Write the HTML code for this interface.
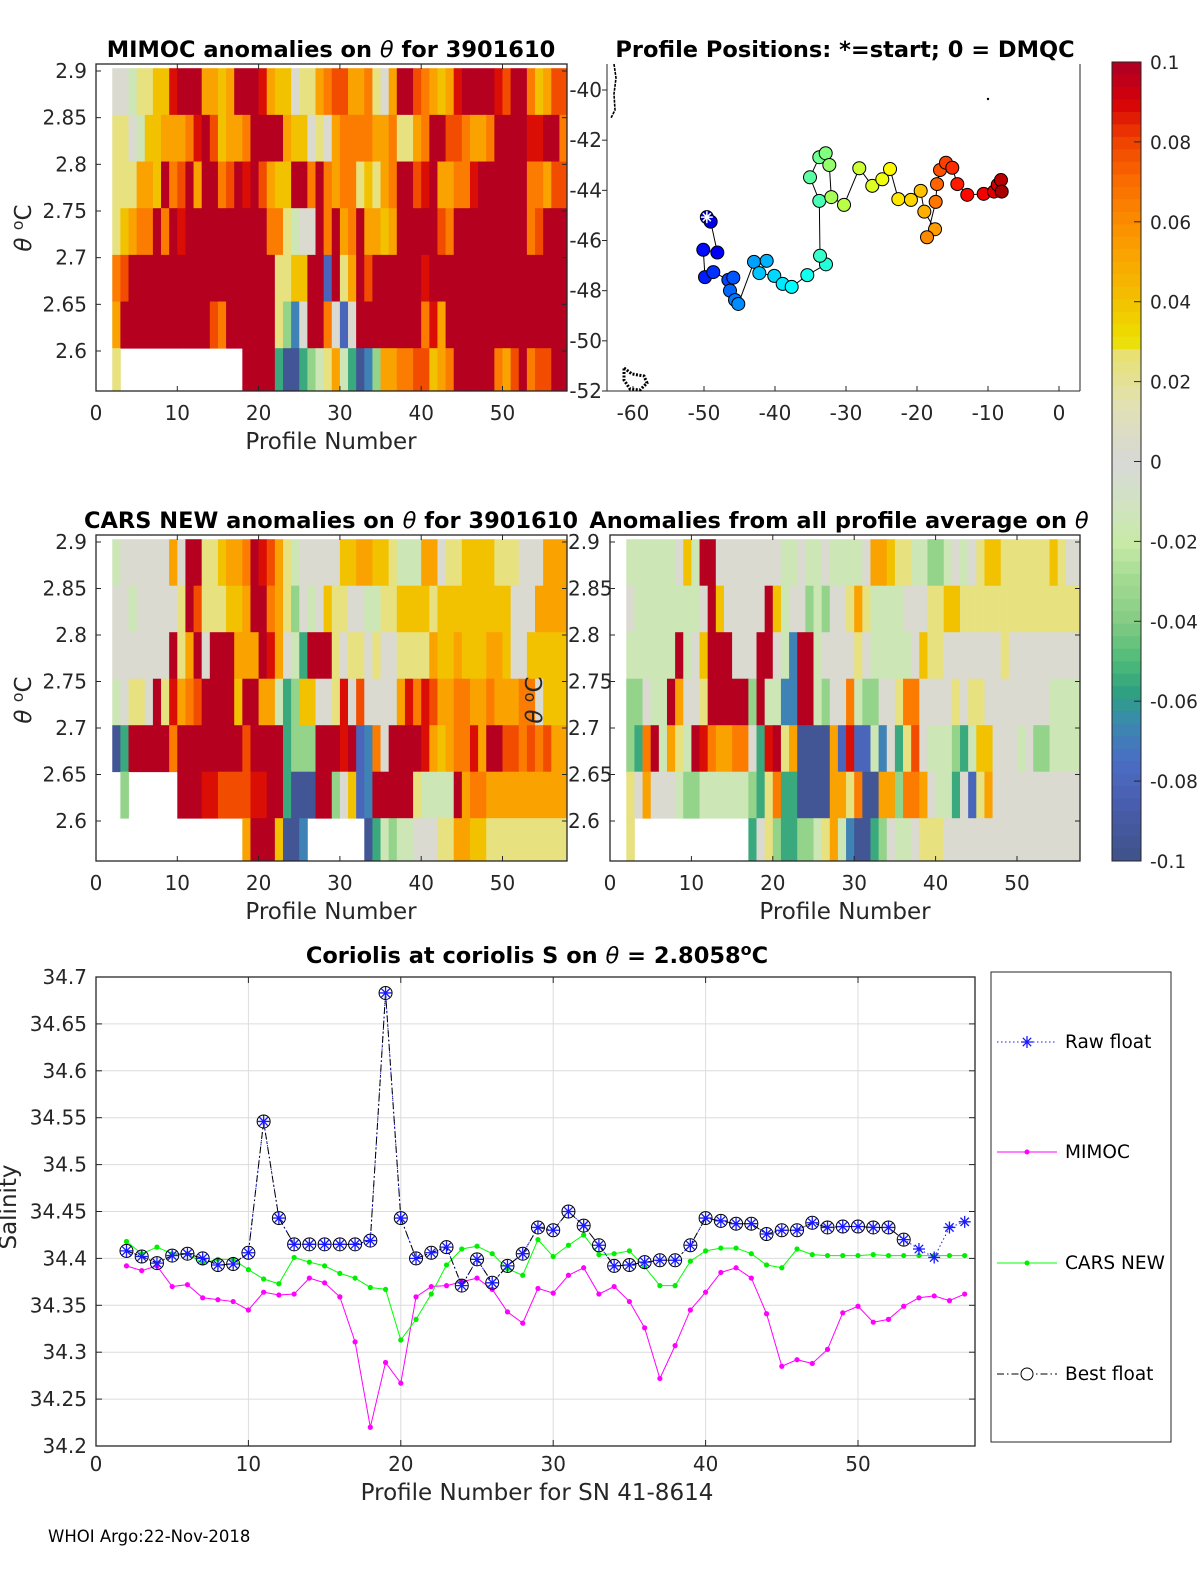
<!DOCTYPE html>
<html><head><meta charset="utf-8"><style>
body{margin:0;background:#fff}
svg{display:block;font-family:"DejaVu Sans","Liberation Sans",sans-serif}
</style></head><body>
<svg id="fig" width="1200" height="1575" viewBox="0 0 1200 1575" xmlns="http://www.w3.org/2000/svg">
<rect width="1200" height="1575" fill="#fff"/>
<g id="g-tl"></g>
<g id="g-map"></g>
<g id="g-ml"></g>
<g id="g-mr"></g>
<g id="g-cb"></g>
<g id="g-line"></g>
<text x="48" y="1542" font-size="16.5" fill="#000">WHOI Argo:22-Nov-2018</text>
</svg>
<script>
// ---------- data ----------
const thetaTicks=[2.9,2.85,2.8,2.75,2.7,2.65,2.6];
const profileTicks=[0,10,20,30,40,50];
const rowCenters=[2.878,2.828,2.778,2.728,2.678,2.628,2.578];
const codeValues={R:0.098,r:0.088,o:0.078,O:0.065,a:0.052,Y:0.04,y:0.024,g:0.003,l:-0.015,m:-0.035,t:-0.055,c:-0.068,b:-0.08,B:-0.095};
const mimocRows=[
"gglyyYYrRRRaaYaRRRraYYgyyaOooaaOygaRRoOaYarRRRRroRROYaoo",
"yyglYYaaaOrRoYaaORRRRaYYgygaOOOOaaOyyaORRooOaaORRRRrrRRO",
"yyyaaYROoRaRROoRrRoaYYRROROaOOyYyaORRorRaaOOrRRRRRROOaoo",
"yYaOORORrRRRRRRRRRROOylggRORaORaaYaRRRRRoORRRRRRRRROoRRR",
"OoRRRRRRRRRRRRRRRRRRyyYYRRbRyaRoRRRRRRrRRRRRRRRRRRRRRRRR",
"aRRRRRRRRRRRoORRRRRRymcgRROgbgRRRRRRRROraRRRRRRRRRRRRRRR",
"y...............RRRRtBBtmlyaltBcmaaOOooYaORRRRROaoROooRR"];
const carsRows=[
"lggggggagRRyyYaaORroaylgggggYYaaYYylllaagyyYYYYyyygggaaa",
"gglgggggyRoyyyYYaRROaymglgYyyggllyyYYYYyYYYYYYYYYgggaaaa",
"gggggggRyaRgRRRaaaRragltRRRygyygyggyyyyaYYaYYYaaYggYYYYY",
"lgyygRyraOoRRRRYRRaaltmYYggyrgoggggarOroaaOOaaOaaaOOgYYY",
"BtRRRRRORRRRRRRRoRRRRtmmmRRRrRbcOgRRRRraYaOOraRRooOoOoaa",
".m......RRRrroooorrRRtBBBRRmgYbcRRRRRyllllRaOOaaaaaaaaaa",
"................aRRRYBBc.......BtlmllgggyyaaYYyyyyyyyyyy"];
const avgRows=[
"llllllgYlRRggggggggllgllgllllgaaYyyllmmlglgyYYyyyyyyYygg",
"gllllllllgRYgggggRYlggmlmggyayllllgggyyYYyyyyyyyyyyyyyyy",
"llllllRlgYRRRgggRRglcRRlggggyglllllgYyygggggggyggggggggg",
"mmgllRaggyRRRRRmRllccRRlmggOlmmggyOOggggygyyggggggggllll",
"mtORlaylRrOaaOOgtrRyaBBBBabrbblcgtyoglllmtlYYggglgmmllll",
"ygaggglmmllllllmtyOttBBBBaayOBBaamOOaglltgbyaggggggggggg",
"y..............tgymttmmlyalcBBtmgllgyyygggggggggggggggggg"];
const mapLon=[-49.6,-49.06,-48.12,-50.1,-49.86,-48.69,-46.57,-45.87,-46.34,-45.63,-45.17,-42.96,-41.17,-42.21,-40.1,-38.92,-37.65,-35.45,-32.82,-33.66,-33.76,-35.07,-33.76,-32.86,-32.35,-32.07,-30.28,-28.13,-26.3,-24.89,-23.8,-22.63,-20.85,-19.48,-18.97,-17.46,-18.59,-17.37,-17.18,-16.76,-15.92,-15.03,-14.32,-12.92,-10.61,-9.15,-8.63,-8.17,-8.07];
const mapLat=[-45.07,-45.25,-46.48,-46.37,-47.46,-47.26,-47.57,-47.48,-48.0,-48.37,-48.53,-46.85,-46.81,-47.3,-47.41,-47.73,-47.85,-47.38,-46.95,-46.61,-44.42,-43.48,-42.68,-42.52,-42.99,-44.27,-44.58,-43.12,-43.82,-43.56,-43.15,-44.35,-44.38,-44.02,-44.85,-45.55,-45.87,-44.46,-43.75,-43.19,-42.9,-43.1,-43.75,-44.18,-44.14,-44.05,-43.78,-43.59,-44.05];
const lonTicks=[-60,-50,-40,-30,-20,-10,0];
const latTicks=[-40,-42,-44,-46,-48,-50,-52];
const cbTicks=[0.1,0.08,0.06,0.04,0.02,0,-0.02,-0.04,-0.06,-0.08,-0.1];
const cbLabels=["0.1","0.08","0.06","0.04","0.02","0","-0.02","-0.04","-0.06","-0.08","-0.1"];
const profiles=[2,3,4,5,6,7,8,9,10,11,12,13,14,15,16,17,18,19,20,21,22,23,24,25,26,27,28,29,30,31,32,33,34,35,36,37,38,39,40,41,42,43,44,45,46,47,48,49,50,51,52,53,54,55,56,57];
const bestFloat=[34.408,34.402,34.395,34.403,34.405,34.4,34.393,34.394,34.406,34.546,34.443,34.415,34.415,34.415,34.415,34.415,34.419,34.683,34.443,34.4,34.406,34.412,34.371,34.399,34.374,34.392,34.405,34.433,34.43,34.45,34.435,34.414,34.392,34.393,34.396,34.398,34.398,34.414,34.443,34.44,34.437,34.437,34.426,34.43,34.43,34.438,34.433,34.434,34.434,34.433,34.433,34.42,null,null,null,null];
const rawFloat=[34.408,34.402,34.395,34.403,34.405,34.4,34.393,34.394,34.406,34.546,34.443,34.415,34.415,34.415,34.415,34.415,34.419,34.683,34.443,34.4,34.406,34.412,34.371,34.399,34.374,34.392,34.405,34.433,34.43,34.45,34.435,34.414,34.392,34.393,34.396,34.398,34.398,34.414,34.443,34.44,34.437,34.437,34.426,34.43,34.43,34.438,34.433,34.434,34.434,34.433,34.433,34.42,34.41,34.401,34.433,34.439];
const mimoc=[34.392,34.387,34.392,34.37,34.372,34.358,34.356,34.354,34.345,34.364,34.361,34.362,34.379,34.374,34.359,34.311,34.22,34.289,34.267,34.359,34.37,34.371,34.375,34.379,34.367,34.343,34.331,34.368,34.363,34.382,34.39,34.362,34.37,34.354,34.326,34.272,34.307,34.345,34.364,34.385,34.39,34.379,34.341,34.285,34.292,34.288,34.303,34.342,34.349,34.332,34.335,34.349,34.358,34.36,34.355,34.362];
const carsNew=[34.418,34.405,34.412,34.405,34.405,34.395,34.399,34.399,34.388,34.378,34.373,34.401,34.396,34.392,34.384,34.379,34.369,34.367,34.313,34.335,34.362,34.393,34.41,34.413,34.405,34.389,34.382,34.42,34.402,34.414,34.425,34.404,34.405,34.408,34.391,34.371,34.371,34.397,34.408,34.411,34.411,34.405,34.393,34.39,34.41,34.404,34.403,34.403,34.403,34.404,34.403,34.403,34.403,34.403,34.403,34.403];
const salTicks=[34.7,34.65,34.6,34.55,34.5,34.45,34.4,34.35,34.3,34.25,34.2];
const salLabels=["34.7","34.65","34.6","34.55","34.5","34.45","34.4","34.35","34.3","34.25","34.2"];

// ---------- helpers ----------
const NS="http://www.w3.org/2000/svg";
function mk(tag,attrs,parent){const e=document.createElementNS(NS,tag);for(const k in attrs)e.setAttribute(k,attrs[k]);parent.appendChild(e);return e;}
function lin(d0,d1,r0,r1){return v=>r0+(v-d0)*(r1-r0)/(d1-d0);}
const stops=[[0.1,'#ad0026'],[0.09,'#d60008'],[0.08,'#f04400'],[0.07,'#fa6c00'],[0.06,'#fb8c00'],[0.05,'#f9a800'],[0.04,'#f2c200'],[0.03,'#ece000'],[0.027,'#e8e070'],[0.015,'#e2e2b0'],[0,'#d8d8d8'],[-0.01,'#d2e2c4'],[-0.02,'#c8eaa8'],[-0.03,'#a2da90'],[-0.04,'#84cc84'],[-0.05,'#4ebb78'],[-0.058,'#2ea082'],[-0.065,'#3a8aae'],[-0.075,'#4a6ec4'],[-0.085,'#4a5eb0'],[-0.1,'#3e5288']];
function hex(h){return [1,3,5].map(i=>parseInt(h.substr(i,2),16));}
function cmap(v){v=Math.max(-0.1,Math.min(0.1,v));for(let i=0;i<stops.length-1;i++){const a=stops[i],b=stops[i+1];if(v<=a[0]&&v>=b[0]){const t=(a[0]-v)/(a[0]-b[0]);const A=hex(a[1]),B=hex(b[1]);return 'rgb('+A.map((c,j)=>Math.round(c+(B[j]-c)*t)).join(',')+')';}}return '#d8d8d8';}
function jet(t){const r=Math.max(0,Math.min(1,1.5-Math.abs(4*t-3))),g=Math.max(0,Math.min(1,1.5-Math.abs(4*t-2))),b=Math.max(0,Math.min(1,1.5-Math.abs(4*t-1)));return 'rgb('+[r,g,b].map(c=>Math.round(c*255)).join(',')+')';}
const FS=20;
function text(parent,x,y,s,opt){const t=mk('text',Object.assign({x:x,y:y,'font-size':FS,fill:'#262626'},opt||{}),parent);t.textContent=s;return t;}

function heatPanel(gid,rows,box,ytop,ybot,name,yLabRight){
  const g=document.getElementById(gid);
  const X=v=>box.x0+v*box.ppu;
  const Y=lin(2.9,2.6,ytop,ybot);
  const clipId=gid+'-clip';
  const cp=mk('clipPath',{id:clipId},g);mk('rect',{x:box.x0,y:box.y0,width:box.x1-box.x0,height:box.y1-box.y0},cp);
  const cells=mk('g',{'clip-path':'url(#'+clipId+')'},g);
  
  
  rows.forEach((row,k)=>{
    const c=rowCenters[k];
    profiles.forEach((p,i)=>{
      const ch=row[Math.min(i,row.length-1)];
      if(ch==='.'||!(ch in codeValues))return;
      const x0=X(p),x1=X(p+1),y0=Y(c+0.025),y1=Y(c-0.025);
      const r=mk('rect',{x:x0,y:y0,width:x1-x0+0.4,height:y1-y0+0.4,fill:cmap(codeValues[ch])},cells);
      
      
    });
  });
  const ax=mk('rect',{x:box.x0,y:box.y0,width:box.x1-box.x0,height:box.y1-box.y0,fill:'none',stroke:'#262626','stroke-width':1.3},g);
  
  
  thetaTicks.forEach(t=>{const y=Y(t);
    mk('line',{x1:box.x0,y1:y,x2:box.x0+5,y2:y,stroke:'#262626'},g);
    mk('line',{x1:box.x1,y1:y,x2:box.x1-5,y2:y,stroke:'#262626'},g);
    const lbl=yLabRight?text(g,box.x0-42,y+7,String(t),{'text-anchor':'start'}):text(g,box.x0-9,y+7,String(t),{'text-anchor':'end'});
    
    
  });
  profileTicks.forEach(t=>{const x=X(t);
    mk('line',{x1:x,y1:box.y1,x2:x,y2:box.y1-5,stroke:'#262626'},g);
    mk('line',{x1:x,y1:box.y0,x2:x,y2:box.y0+5,stroke:'#262626'},g);
    const lbl=text(g,x,box.y1+29,String(t),{'text-anchor':'middle'});
    
    
  });
}

heatPanel('g-tl',mimocRows,{x0:96,x1:567,y0:64,y1:391,ppu:8.13},71,351,'mimoc');
heatPanel('g-ml',carsRows,{x0:96,x1:567,y0:535,y1:861,ppu:8.13},542,821,'cars');
heatPanel('g-mr',avgRows,{x0:610,x1:1080,y0:535,y1:861,ppu:8.14},542,821,'average',true);

(function(){
  const svg=document.getElementById('fig');
  function T(x,y,html,opt,name){const t=mk('text',Object.assign({x:x,y:y,'font-size':FS,fill:'#000'},opt),svg);t.innerHTML=html;return t;}
  const tt={'text-anchor':'middle','font-weight':'bold','font-size':22.5};
  T(331,57,'MIMOC anomalies on <tspan font-style="italic" font-weight="normal">θ</tspan>  for 3901610',tt,'mimoc-title');
  T(845,57,'Profile Positions: *=start; 0 = DMQC',tt,'map-title');
  T(331,528,'CARS NEW anomalies on <tspan font-style="italic" font-weight="normal">θ</tspan> for 3901610',tt,'cars-title');
  T(839,528,'Anomalies from all profile average on <tspan font-style="italic" font-weight="normal">θ</tspan>',tt,'average-title');
  const al={'text-anchor':'middle','font-size':23,fill:'#262626'};
  T(331,449,'Profile Number',al,'mimoc-x-axis-title');
  T(331,919,'Profile Number',al,'cars-x-axis-title');
  T(845,919,'Profile Number',al,'average-x-axis-title');
  const yl='<tspan font-style="italic">θ</tspan> <tspan dy="-8" font-size="16">o</tspan><tspan dy="8">C</tspan>';
  T(0,0,yl,{'font-size':23,fill:'#262626','text-anchor':'middle',transform:'translate(31,228) rotate(-90)'},'mimoc-y-axis-title');
  T(0,0,yl,{'font-size':23,fill:'#262626','text-anchor':'middle',transform:'translate(31,700) rotate(-90)'},'cars-y-axis-title');
  T(0,0,yl,{'font-size':23,fill:'#262626','text-anchor':'middle',transform:'translate(542,700) rotate(-90)'},'average-y-axis-title');
  T(537,963,'Coriolis at coriolis S on <tspan font-style="italic" font-weight="normal">θ</tspan> = 2.8058<tspan dy="-8" font-size="16">o</tspan><tspan dy="8">C</tspan>',tt,'line-chart-title');
  T(537,1500,'Profile Number for SN 41-8614',al,'line-x-axis-title');
  T(0,0,'Salinity',{'font-size':23,fill:'#262626','text-anchor':'middle',transform:'translate(16,1207) rotate(-90)'},'line-y-axis-title');
})();

// ---------- map ----------
(function(){
  const g=document.getElementById('g-map');
  const X=lin(-60,0,633,1059), Y=lin(-40,-52,90,391);
  const x0=607,x1=1080,y0=64,y1=391;
  mk('line',{x1:x0,y1:y1,x2:x1,y2:y1,stroke:'#262626'},g);
  mk('line',{x1:x0,y1:y0,x2:x0,y2:y1,stroke:'#262626'},g);
  mk('line',{x1:x1,y1:y0,x2:x1,y2:y1,stroke:'#262626'},g);
  lonTicks.forEach(t=>{const x=X(t);mk('line',{x1:x,y1:y1,x2:x,y2:y1-5,stroke:'#262626'},g);
    const l=text(g,x,y1+29,String(t),{'text-anchor':'middle'});});
  latTicks.forEach(t=>{const y=Y(t);mk('line',{x1:x0-5,y1:y,x2:x0,y2:y,stroke:'#262626'},g);
    const l=text(g,x0-5,y+7,String(t),{'text-anchor':'end'});});
  const c1=mk('path',{d:'M614,64 L616,78 L614,94 L615,110 L611,118',fill:'none',stroke:'#000','stroke-width':1.6,'stroke-dasharray':'3 1'},g);
  
  const c2=mk('path',{d:'M624,368 L632,374 L644,376 L647,383 L640,390 L630,389 L624,380 Z',fill:'none',stroke:'#000','stroke-width':3,'stroke-dasharray':'2 1.5'},g);
  
  mk('circle',{cx:988,cy:99,r:1.2,fill:'#000'},g);
  const pts=mapLon.map((lo,i)=>X(lo)+','+Y(mapLat[i])).join(' ');
  const tr=mk('polyline',{points:pts,fill:'none',stroke:'#000','stroke-width':1},g);
  
  mapLon.forEach((lo,i)=>{
    const c=mk('circle',{cx:X(lo),cy:Y(mapLat[i]),r:6.5,fill:jet(0.08+0.88*i/(mapLon.length-1)),stroke:'#000','stroke-width':1},g);
    
    
  });
  const sx=X(mapLon[0]),sy=Y(mapLat[0]);
  const st=mk('path',{d:`M${sx-6},${sy}H${sx+6}M${sx},${sy-6}V${sy+6}M${sx-4},${sy-4}L${sx+4},${sy+4}M${sx-4},${sy+4}L${sx+4},${sy-4}`,stroke:'#fff','stroke-width':1.5},g);
  
})();

// ---------- colorbar ----------
(function(){
  const g=document.getElementById('g-cb');
  const Y=lin(0.1,-0.1,62,861);
  for(let i=0;i<64;i++){const v0=0.1-i*0.2/64,v1=v0-0.2/64;
    const r=mk('rect',{x:1112,y:Y(v0),width:29,height:Y(v1)-Y(v0)+0.5,fill:cmap((v0+v1)/2)},g);
    }
  mk('rect',{x:1112,y:62,width:29,height:799,fill:'none',stroke:'#262626'},g);
  cbTicks.forEach((t,i)=>{const y=Y(t);mk('line',{x1:1134,y1:y,x2:1141,y2:y,stroke:'#262626'},g);
    const l=text(g,1150,y+7,cbLabels[i],{'font-size':18.5});});
})();

// ---------- line chart ----------
(function(){
  const g=document.getElementById('g-line');
  const x0=96,x1=975,y0=977,y1=1446;
  const X=lin(0,10,96,248.4), Y=lin(34.7,34.2,y0,y1);
  salTicks.forEach((t,i)=>{const y=Y(t);
    const gl=mk('line',{x1:x0,y1:y,x2:x1,y2:y,stroke:'#dcdcdc'},g);
    mk('line',{x1:x0,y1:y,x2:x0+6,y2:y,stroke:'#262626'},g);mk('line',{x1:x1,y1:y,x2:x1-6,y2:y,stroke:'#262626'},g);
    const l=text(g,x0-9,y+7,salLabels[i],{'text-anchor':'end'});});
  profileTicks.forEach(t=>{const x=X(t);
    const gl=mk('line',{x1:x,y1:y0,x2:x,y2:y1,stroke:'#dcdcdc'},g);
    mk('line',{x1:x,y1:y1,x2:x,y2:y1-6,stroke:'#262626'},g);mk('line',{x1:x,y1:y0,x2:x,y2:y0+6,stroke:'#262626'},g);
    const l=text(g,x,y1+25,String(t),{'text-anchor':'middle'});});
  mk('rect',{x:x0,y:y0,width:x1-x0,height:y1-y0,fill:'none',stroke:'#262626','stroke-width':1.3},g);
  function pts(arr){return profiles.map((p,i)=>arr[i]==null?null:X(p)+','+Y(arr[i])).filter(Boolean).join(' ');}
  function star(x,y,s,par){return mk('path',{d:`M${x-s},${y}H${x+s}M${x},${y-s}V${y+s}M${x-s*0.7},${y-s*0.7}L${x+s*0.7},${y+s*0.7}M${x-s*0.7},${y+s*0.7}L${x+s*0.7},${y-s*0.7}`,stroke:'#1a1aff','stroke-width':1.3,fill:'none'},par);}
  const lm=mk('polyline',{points:pts(mimoc),fill:'none',stroke:'#ff00ff','stroke-width':1},g);
  const lc=mk('polyline',{points:pts(carsNew),fill:'none',stroke:'#00ff00','stroke-width':1},g);
  profiles.forEach((p,i)=>{const a=mk('circle',{cx:X(p),cy:Y(mimoc[i]),r:2.6,fill:'#ff00ff'},g);
    const b=mk('circle',{cx:X(p),cy:Y(carsNew[i]),r:2.6,fill:'#00ee00'},g);});
  const lr=mk('polyline',{points:pts(rawFloat),fill:'none',stroke:'#1a1aff','stroke-width':1,'stroke-dasharray':'1.5 2.5'},g);
  const lb=mk('polyline',{points:pts(bestFloat),fill:'none',stroke:'#000','stroke-width':1,'stroke-dasharray':'7 3 1.5 3'},g);
  profiles.forEach((p,i)=>{
    if(bestFloat[i]!=null){const c=mk('circle',{cx:X(p),cy:Y(bestFloat[i]),r:6.5,fill:'none',stroke:'#000','stroke-width':1},g);}
    const s=star(X(p),Y(rawFloat[i]),6,g);
  });
  const lg=mk('g',{},g);
  mk('rect',{x:991,y:972,width:180,height:470,fill:'#fff',stroke:'#262626'},lg);
  const entries=[['Raw float',1042],['MIMOC',1152],['CARS NEW',1263],['Best float',1374]];
  entries.forEach((e,k)=>{const y=e[1];const eg=mk('g',{},lg);
    if(k===0){mk('line',{x1:997,y1:y,x2:1057,y2:y,stroke:'#1a1aff','stroke-dasharray':'1.5 2.5'},eg);star(1027,y,6,eg);}
    if(k===1){mk('line',{x1:997,y1:y,x2:1057,y2:y,stroke:'#ff00ff'},eg);mk('circle',{cx:1027,cy:y,r:2.5,fill:'#ff00ff'},eg);}
    if(k===2){mk('line',{x1:997,y1:y,x2:1057,y2:y,stroke:'#00ff00'},eg);mk('circle',{cx:1027,cy:y,r:2.5,fill:'#00ee00'},eg);}
    if(k===3){mk('line',{x1:997,y1:y,x2:1057,y2:y,stroke:'#000','stroke-dasharray':'7 3 1.5 3'},eg);mk('circle',{cx:1027,cy:y,r:6,fill:'#fff',stroke:'#000'},eg);}
    text(eg,1065,y+6,e[0],{fill:'#000','font-size':18.5});
  });
})();
</script>
</body></html>
